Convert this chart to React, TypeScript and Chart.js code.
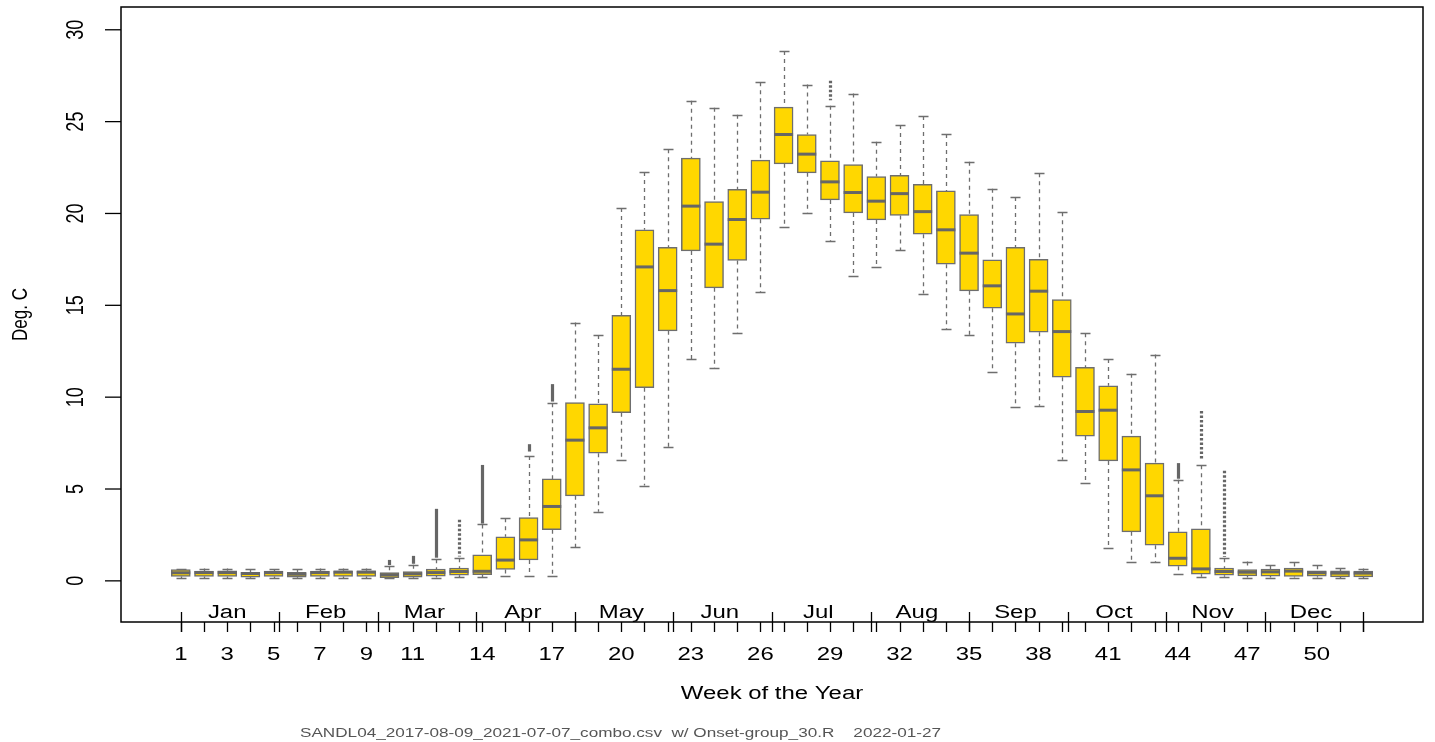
import React, { useEffect, useRef } from "react";
import { Chart, registerables } from "chart.js";

Chart.register(...registerables);

// ---- data ----
const weeks = [
  1, 2, 3, 4, 5, 6, 7, 8, 9, 10, 11, 12, 13, 14, 15, 16, 17, 18, 19, 20, 21, 22, 23, 24, 25, 26,
  27, 28, 29, 30, 31, 32, 33, 34, 35, 36, 37, 38, 39, 40, 41, 42, 43, 44, 45, 46, 47, 48, 49, 50, 51, 52,
];

const whiskerLow = [
  0.16, 0.16, 0.16, 0.16, 0.16, 0.16, 0.16, 0.16, 0.16, 0.14, 0.15, 0.18, 0.2, 0.2, 0.27, 0.27, 0.29,
  1.83, 3.76, 6.57, 5.19, 7.26, 12.08, 11.59, 13.5, 15.7, 19.29, 20.0, 18.51, 16.57, 17.11, 18.0,
  15.64, 13.7, 13.39, 11.39, 9.44, 9.53, 6.59, 5.33, 1.81, 1.0, 1.02, 0.36, 0.22, 0.22, 0.18, 0.18,
  0.18, 0.18, 0.15, 0.15,
];

const q1 = [
  0.24, 0.24, 0.24, 0.2, 0.24, 0.2, 0.24, 0.24, 0.24, 0.18, 0.2, 0.26, 0.31, 0.33, 0.62, 1.14, 2.78,
  4.63, 6.95, 9.15, 10.51, 13.61, 17.96, 15.95, 17.44, 19.69, 22.7, 22.21, 20.74, 20.03, 19.65, 19.89,
  18.87, 17.24, 15.79, 14.84, 12.94, 13.54, 11.09, 7.88, 6.53, 2.67, 1.94, 0.8, 0.36, 0.31, 0.27, 0.26,
  0.24, 0.25, 0.22, 0.22,
];

const median = [
  0.44, 0.45, 0.45, 0.4, 0.45, 0.36, 0.45, 0.47, 0.47, 0.33, 0.38, 0.45, 0.51, 0.52, 1.13, 2.23, 4.05,
  7.66, 8.33, 11.52, 17.09, 15.8, 20.4, 18.33, 19.67, 21.16, 24.3, 23.23, 21.72, 21.14, 20.67, 21.08,
  20.1, 19.11, 17.84, 16.06, 14.53, 15.77, 13.57, 9.22, 9.29, 6.04, 4.63, 1.23, 0.65, 0.51, 0.47, 0.49,
  0.53, 0.44, 0.42, 0.42,
];

const q3 = [
  0.62, 0.53, 0.55, 0.47, 0.53, 0.46, 0.53, 0.55, 0.55, 0.45, 0.51, 0.64, 0.69, 1.42, 2.4, 3.45, 5.55,
  9.71, 9.64, 14.46, 19.11, 18.15, 23.01, 20.65, 21.32, 22.9, 25.79, 24.3, 22.86, 22.66, 22.01, 22.08,
  21.59, 21.23, 19.94, 17.47, 18.15, 17.51, 15.31, 11.63, 10.62, 7.88, 6.41, 2.67, 2.83, 0.69, 0.62,
  0.64, 0.69, 0.54, 0.54, 0.53,
];

const whiskerHigh = [
  0.65, 0.67, 0.67, 0.64, 0.65, 0.64, 0.67, 0.67, 0.67, 0.8, 0.87, 1.18, 1.23, 3.07, 3.41, 6.8, 9.67,
  14.06, 13.39, 20.3, 22.26, 23.5, 26.13, 25.75, 25.38, 27.15, 28.85, 27.02, 25.87, 26.53, 23.91, 24.81,
  25.31, 24.33, 22.81, 21.34, 20.9, 22.19, 20.07, 13.48, 12.08, 11.27, 12.32, 5.5, 6.3, 1.23, 1.05, 0.85,
  1.0, 0.85, 0.69, 0.67,
];

// outliers above the upper whisker: week, lowest and highest outlier, and whether they look dotted
const outlierWeeks = [10, 11, 12, 13, 14, 16, 17, 29, 44, 45, 46];
const outlierLow = [0.86, 0.93, 1.26, 1.32, 3.12, 7.04, 9.76, 26.17, 5.56, 6.6, 1.3];
const outlierHigh = [1.14, 1.36, 3.92, 3.32, 6.31, 7.44, 10.71, 27.22, 6.41, 9.25, 5.99];
const outlierDotted = [false, false, false, true, false, false, false, true, false, true, true];

// axis tick labels
const yTicks = [0, 5, 10, 15, 20, 25, 30];
const weekLabels = [1, 3, 5, 7, 9, 11, 14, 17, 20, 23, 26, 29, 32, 35, 38, 41, 44, 47, 50];
const monthNames = ["Jan", "Feb", "Mar", "Apr", "May", "Jun", "Jul", "Aug", "Sep", "Oct", "Nov", "Dec"];
const monthStarts = [1, 5.25, 9.5, 13.75, 18, 22.25, 26.5, 30.75, 35, 39.25, 43.5, 47.75, 52];
const monthLabelPos = [3, 7.25, 11.5, 15.75, 20, 24.25, 28.5, 32.75, 37, 41.25, 45.5, 49.75];

const yTitle = "Deg. C";
const xTitle = "Week of the Year";
const footer = "SANDL04_2017-08-09_2021-07-07_combo.csv  w/ Onset-group_30.R    2022-01-27";

const GOLD = "#FFD700";
const GRAY = "#6e6e6e";
const FONT = '"Liberation Sans", Arial, Helvetica, sans-serif';
const SX = 1.33; // horizontal stretch of the original device's text

function drawText(
  ctx: CanvasRenderingContext2D,
  text: string,
  x: number,
  y: number,
  size: number,
  sx: number,
  align: CanvasTextAlign,
  baseline: CanvasTextBaseline,
  rotated = false,
  color = "#000"
) {
  ctx.save();
  ctx.font = `${size}px ${FONT}`;
  ctx.fillStyle = color;
  ctx.textAlign = align;
  ctx.textBaseline = baseline;
  ctx.translate(x, y);
  ctx.scale(sx, 1);
  if (rotated) ctx.rotate(-Math.PI / 2);
  ctx.fillText(text, 0, 0);
  ctx.restore();
}

const boxPlugin = {
  id: "boxExtras",
  beforeDatasetsDraw(chart: any) {
    const { ctx, scales } = chart;
    const x = scales.x;
    const y = scales.y;
    ctx.save();
    ctx.strokeStyle = GRAY;
    // dashed whiskers
    ctx.lineWidth = 1.3;
    ctx.setLineDash([4, 4]);
    for (let i = 0; i < weeks.length; i++) {
      const px = Math.round(x.getPixelForValue(weeks[i])) + 0.5;
      ctx.beginPath();
      ctx.moveTo(px, y.getPixelForValue(whiskerHigh[i]));
      ctx.lineTo(px, y.getPixelForValue(q3[i]));
      ctx.moveTo(px, y.getPixelForValue(q1[i]));
      ctx.lineTo(px, y.getPixelForValue(whiskerLow[i]));
      ctx.stroke();
    }
    ctx.setLineDash([]);
    // staples
    for (let i = 0; i < weeks.length; i++) {
      const px = Math.round(x.getPixelForValue(weeks[i])) + 0.5;
      ctx.beginPath();
      for (const v of [whiskerHigh[i], whiskerLow[i]]) {
        const py = Math.round(y.getPixelForValue(v)) + 0.5;
        ctx.moveTo(px - 5, py);
        ctx.lineTo(px + 5, py);
      }
      ctx.stroke();
    }
    // outliers
    ctx.strokeStyle = "#666666";
    ctx.lineWidth = 3.2;
    for (let j = 0; j < outlierWeeks.length; j++) {
      const px = Math.round(x.getPixelForValue(outlierWeeks[j])) + 0.5;
      ctx.setLineDash(outlierDotted[j] ? [2.5, 2] : []);
      ctx.beginPath();
      ctx.moveTo(px, y.getPixelForValue(outlierHigh[j]));
      ctx.lineTo(px, y.getPixelForValue(outlierLow[j]));
      ctx.stroke();
    }
    ctx.restore();
  },
  afterDatasetsDraw(chart: any) {
    const { ctx, scales } = chart;
    const x = scales.x;
    const y = scales.y;
    ctx.save();
    ctx.strokeStyle = "#666666";
    ctx.lineWidth = 3;
    for (let i = 0; i < weeks.length; i++) {
      const px = x.getPixelForValue(weeks[i]);
      const py = y.getPixelForValue(median[i]);
      ctx.beginPath();
      ctx.moveTo(px - 9.5, py);
      ctx.lineTo(px + 9.5, py);
      ctx.stroke();
    }
    ctx.restore();
  },
  afterDraw(chart: any) {
    const { ctx, scales, chartArea } = chart;
    const x = scales.x;
    const y = scales.y;
    const { left, right, top, bottom } = chartArea;
    ctx.save();
    // frame
    ctx.strokeStyle = "#000";
    ctx.lineWidth = 1.5;
    ctx.strokeRect(left, top, right - left, bottom - top);
    // y axis ticks and labels
    ctx.lineWidth = 1.3;
    for (const v of yTicks) {
      const py = y.getPixelForValue(v);
      ctx.beginPath();
      ctx.moveTo(left - 16, py);
      ctx.lineTo(left, py);
      ctx.stroke();
      drawText(ctx, String(v), 83, py, 18, SX, "center", "alphabetic", true);
    }
    // week ticks
    for (const w of weeks) {
      const px = Math.round(x.getPixelForValue(w)) + 0.5;
      ctx.beginPath();
      ctx.moveTo(px, bottom);
      ctx.lineTo(px, bottom + 10);
      ctx.stroke();
    }
    // month separators
    for (const m of monthStarts) {
      const px = Math.round(x.getPixelForValue(m)) + 0.5;
      ctx.beginPath();
      ctx.moveTo(px, bottom - 10);
      ctx.lineTo(px, bottom + 10);
      ctx.stroke();
    }
    // month labels
    monthNames.forEach((name, k) => {
      drawText(ctx, name, x.getPixelForValue(monthLabelPos[k]), bottom - 4, 18, SX, "center", "alphabetic");
    });
    // week labels
    for (const w of weekLabels) {
      drawText(ctx, String(w), x.getPixelForValue(w), 660, 18, SX, "center", "alphabetic");
    }
    // titles
    drawText(ctx, xTitle, (left + right) / 2, 699, 18, SX, "center", "alphabetic");
    drawText(ctx, yTitle, 27, (top + bottom) / 2, 17, SX, "center", "alphabetic", true);
    // footer, fitted to the original extent
    ctx.font = `12px ${FONT}`;
    const w = ctx.measureText(footer).width;
    const targetW = 641;
    drawText(ctx, footer, 300, 737, 12, targetW / w, "left", "alphabetic", false, "#555555");
    ctx.restore();
  },
};

export default function App() {
  const canvasRef = useRef<HTMLCanvasElement | null>(null);

  useEffect(() => {
    const canvas = canvasRef.current;
    if (!canvas) return;
    const chart = new Chart(canvas, {
      type: "bar",
      data: {
        datasets: [
          {
            label: "IQR",
            data: weeks.map((w, i) => ({ x: w, y: [q1[i], q3[i]] })) as any,
            backgroundColor: GOLD,
            borderColor: GRAY,
            borderWidth: 1.5,
            borderSkipped: false,
            barThickness: 19,
          },
        ],
      },
      options: {
        responsive: false,
        animation: false,
        devicePixelRatio: 1,
        layout: { padding: { left: 121, top: 7, right: 12, bottom: 120 } },
        plugins: { legend: { display: false }, tooltip: { enabled: false } },
        scales: {
          x: { type: "linear", min: -1.58, max: 54.58, offset: false, display: false },
          y: { type: "linear", min: -2.24, max: 31.24, display: false },
        },
      },
      plugins: [boxPlugin],
    });
    return () => chart.destroy();
  }, []);

  return (
    <div style={{ position: "fixed", left: 0, top: 0, width: 1435, height: 742, background: "#fff" }}>
      <canvas ref={canvasRef} width={1435} height={742} style={{ display: "block" }} />
    </div>
  );
}
